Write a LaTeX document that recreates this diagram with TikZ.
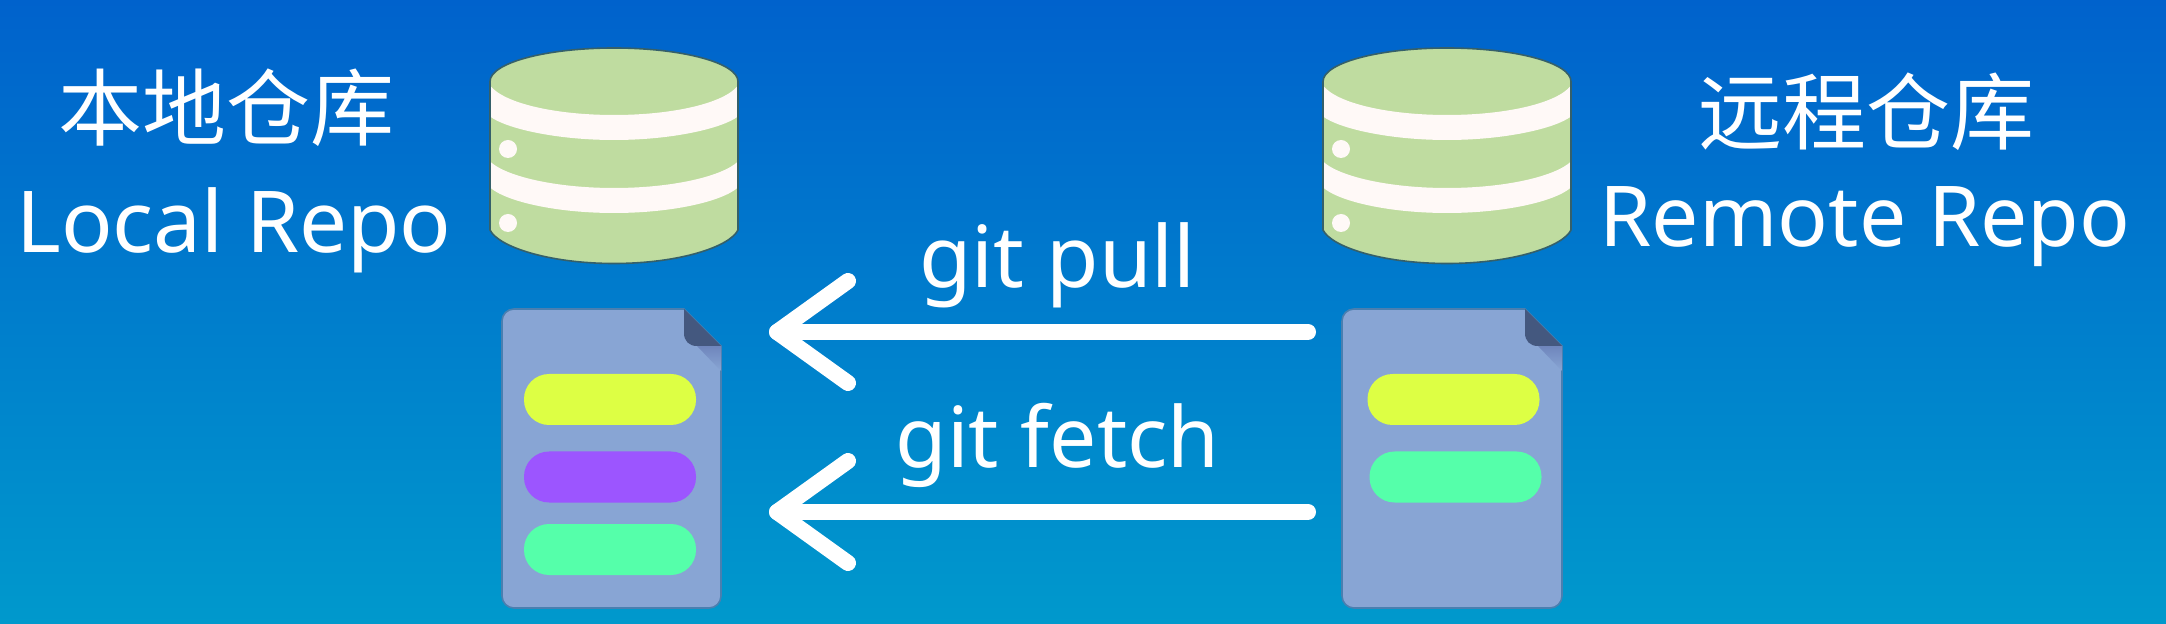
\documentclass[tikz,border=0pt]{standalone}
\usepackage{fontspec}
\setmainfont{Noto Sans}
\newfontfamily\cjk{Noto Sans CJK SC}
\usetikzlibrary{arrows.meta}
\definecolor{bgtop}{HTML}{0062CC}
\definecolor{bgbot}{HTML}{0099CC}
\definecolor{dbgreen}{HTML}{BFDCA0}
\definecolor{dbline}{HTML}{35606A}
\definecolor{dbwhite}{HTML}{FFF9F7}
\definecolor{sheet}{HTML}{88A5D4}
\definecolor{sheetline}{HTML}{4A7FB0}
\definecolor{folddark}{HTML}{44587F}
\definecolor{foldshade}{HTML}{6F86BC}
\definecolor{pillyellow}{HTML}{DDFF44}
\definecolor{pillpurple}{HTML}{9C55FF}
\definecolor{pillgreen}{HTML}{55FFAA}
\tikzset{
  x=0.5pt,y=0.5pt,
  label text/.style={inner sep=0pt,text=white,font=\fontsize{42pt}{48pt}\selectfont,anchor=base},
  wide text/.style={label text,font=\fontsize{42.7pt}{48pt}\selectfont},
  cjk text/.style={label text,font=\fontsize{42pt}{48pt}\selectfont\cjk},
  pill/.style={rounded corners=12.5pt,minimum width=86pt,minimum height=25.5pt,inner sep=0pt,outer sep=0pt},
  doc box/.style={minimum width=109.5pt,minimum height=149.5pt,inner sep=0pt,outer sep=0pt},
  git arrow/.style={draw=white,line width=8pt,line cap=round,line join=round},
}
\newcommand{\dbdrum}[1]{%
  \begin{scope}[shift={(#1,-81.5)}]
    \fill[dbgreen] (0,0) arc[start angle=180,end angle=0,x radius=124,y radius=33.5]
      -- (248,-148.5) .. controls (240,-165) and (190,-182) .. (124,-182)
      .. controls (58,-182) and (8,-165) .. (0,-148.5) -- cycle;
    \fill[dbwhite] (0,-4) .. controls (14,-22) and (66,-33.5) .. (124,-33.5)
      .. controls (182,-33.5) and (234,-22) .. (248,-4)
      -- (248,-35) .. controls (232,-47) and (182,-58.5) .. (124,-58.5)
      .. controls (66,-58.5) and (16,-47) .. (0,-35) -- cycle;
    \fill[dbwhite] (0,-80) .. controls (16,-95) and (66,-106.5) .. (124,-106.5)
      .. controls (182,-106.5) and (232,-95) .. (248,-80)
      -- (248,-106) .. controls (232,-120) and (182,-131.5) .. (124,-131.5)
      .. controls (66,-131.5) and (16,-120) .. (0,-106) -- cycle;
    \fill[dbwhite] (18,-67.5) circle[radius=9];
    \fill[dbwhite] (18,-141.5) circle[radius=9];
    \draw[dbline,line width=.8pt] (0,0) arc[start angle=180,end angle=0,x radius=124,y radius=33.5]
      -- (248,-148.5) .. controls (240,-165) and (190,-182) .. (124,-182)
      .. controls (58,-182) and (8,-165) .. (0,-148.5) -- cycle;
  \end{scope}}
\newcommand{\docsheet}[2]{% left x, width
  \begin{scope}[shift={(#1,-309)}]
    \draw[fill=sheet,draw=sheetline,line width=.8pt]
      (12,0) -- (#2-37,0) -- (#2,-37) -- (#2,-287) arc[start angle=0,end angle=-90,radius=12]
      -- (12,-299) arc[start angle=270,end angle=180,radius=12]
      -- (0,-12) arc[start angle=180,end angle=90,radius=12] -- cycle;
    \shade[top color=foldshade,bottom color=sheet] (#2-24,-37) -- (#2,-37) -- (#2,-62) -- cycle;
    \fill[folddark] (#2-37,0) -- (#2,-37) -- (#2-24,-37)
      .. controls (#2-32,-37) and (#2-37,-32) .. (#2-37,-24) -- cycle;
  \end{scope}}
\begin{document}
\begin{tikzpicture}
\useasboundingbox (0,0) rectangle (2166,-624);
\shade[top color=bgtop,bottom color=bgbot] (0,0) rectangle (2166,-624);

\dbdrum{490}
\dbdrum{1323}
\docsheet{502}{219}
\docsheet{1342}{220}

\node[doc box] (localdoc) at (611.5,-458.5) {};
\node[doc box,minimum width=110pt] (remotedoc) at (1452,-458.5) {};

\node[pill,fill=pillyellow] (localyellow) at (610,-399.5) {};
\node[pill,fill=pillpurple] (localpurple) at (610,-477) {};
\node[pill,fill=pillgreen] (localgreen) at (610,-549.5) {};
\node[pill,fill=pillyellow] (remoteyellow) at (1453.5,-399.5) {};
\node[pill,fill=pillgreen] (remotegreen) at (1455.5,-477) {};

\node[cjk text] (localzh) at (226,-140) {本地仓库};
\node[wide text] (localen) at (234,-253) {Local Repo};
\node[cjk text] (remotezh) at (1866,-144) {远程仓库};
\node[label text] (remoteen) at (1865,-247) {Remote Repo};
\node[wide text] (pulltext) at (1057.5,-288) {git pull};
\node[label text] (fetchtext) at (1057.5,-467) {git fetch};

\coordinate (pulltip) at ([xshift=28pt,yshift=63.25pt]localdoc.east);
\coordinate (fetchtip) at ([xshift=28pt,yshift=-26.75pt]localdoc.east);
\draw[git arrow,shorten <=17pt] ([yshift=63.25pt]remotedoc.west) -- (pulltip);
\draw[git arrow] (pulltip) ++(71,51) -- (pulltip) -- ++(71,-51);
\draw[git arrow,shorten <=17pt] ([yshift=-26.75pt]remotedoc.west) -- (fetchtip);
\draw[git arrow] (fetchtip) ++(71,51) -- (fetchtip) -- ++(71,-51);
\end{tikzpicture}
\end{document}
